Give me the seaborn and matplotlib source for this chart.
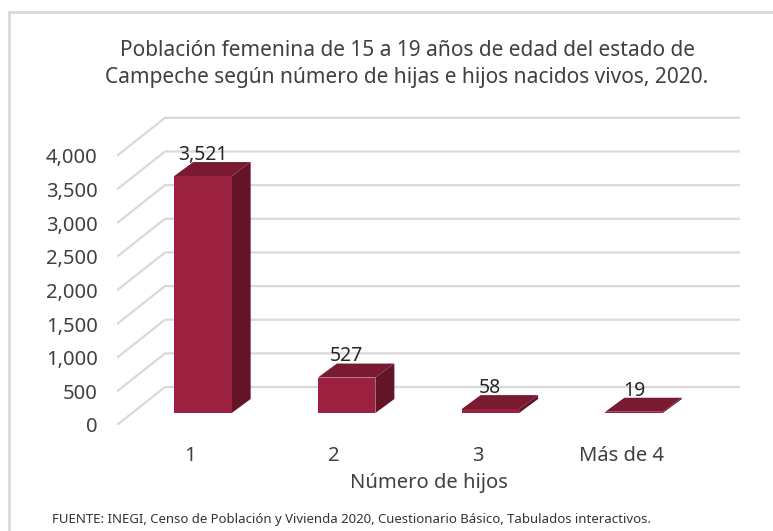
import numpy as np
import matplotlib
matplotlib.use("Agg")
import matplotlib.pyplot as plt
from matplotlib.patches import Polygon
from matplotlib.lines import Line2D
import seaborn as sns

# data
categories = ["1", "2", "3", "Más de 4"]
values = [3521, 527, 58, 19]
yticks = [0, 500, 1000, 1500, 2000, 2500, 3000, 3500, 4000]

title = ("Población femenina de 15 a 19 años de edad del estado de\n"
         "Campeche según número de hijas e hijos nacidos vivos, 2020.")
source = "FUENTE: INEGI, Censo de Población y Vivienda 2020, Cuestionario Básico, Tabulados interactivos."

sns.set_style("white")
plt.rcParams['font.family'] = ['Noto Sans', 'DejaVu Sans']

front_c = "#9C2141"
top_c = "#7A1A31"
side_c = "#631527"
grid_c = "#D9D9D9"
text_c = "#404040"

# fake 3D: depth offsets in data units
ddx, ddy = 0.132, 208      # bar depth
floor_front, floor_back = -178, 386
x_front, x_back, x_end = -0.598, -0.264, 3.737

fig = plt.figure(figsize=(7.73, 5.31), dpi=100)
ax = fig.add_axes([117 / 773, 1 - 425 / 531, 623 / 773, 325 / 531])

sns.barplot(x=categories, y=values, width=0.4, color=front_c, saturation=1,
            linewidth=0, ax=ax, zorder=3)

# gridlines: front diagonal + back wall
for v in yticks:
    ax.plot([x_front, x_back, x_end], [v + floor_front, v + floor_back, v + floor_back],
            color=grid_c, lw=1.6, zorder=1, solid_capstyle="butt")

# top + side faces from the seaborn bars
for p, val in zip(ax.patches, values):
    x0 = p.get_x()
    x1 = x0 + p.get_width()
    h = p.get_height()
    side = Polygon([(x1, 0), (x1, h), (x1 + ddx, h + ddy), (x1 + ddx, ddy)],
                   closed=True, fc=side_c, ec="none", zorder=2)
    top = Polygon([(x0, h), (x1, h), (x1 + ddx, h + ddy), (x0 + ddx, h + ddy)],
                  closed=True, fc=top_c, ec="none", zorder=4)
    ax.add_patch(side)
    ax.add_patch(top)
    ax.annotate(f"{val:,}", (x0 + p.get_width() / 2, h + ddy), xytext=(0, -2),
                textcoords="offset points", ha="center", va="bottom",
                fontsize=14, color="#262626", zorder=5)

ax.set_xlim(x_front, x_end)
ax.set_ylim(floor_front, floor_front + 325 / 0.0673)

ax.set_yticks([v + floor_front for v in yticks], [f"{v:,}" for v in yticks])
ax.set_xticks([i - 0.09 for i in range(len(categories))], categories)
ax.tick_params(axis="y", length=0, pad=14, labelsize=14.5, labelcolor=text_c)
ax.tick_params(axis="x", length=0, pad=15, labelsize=14.5, labelcolor=text_c)
ax.set_xlabel("Número de hijos", fontsize=14.5, color=text_c, labelpad=5)
ax.set_ylabel("")
sns.despine(ax=ax, left=True, bottom=True)

fig.text(407 / 773, 1 - 64 / 531, title, ha="center", va="center",
         fontsize=15, color=text_c, linespacing=1.42)
fig.text(52 / 773, 1 - 520 / 531, source, ha="left", va="center",
         fontsize=9.5, color="#333333")

# outer frame (top and left only)
fig.add_artist(Line2D([9 / 773, 1], [1 - 12 / 531] * 2, color=grid_c, lw=2,
                      transform=fig.transFigure))
fig.add_artist(Line2D([9 / 773] * 2, [0, 1 - 12 / 531], color=grid_c, lw=2,
                      transform=fig.transFigure))

fig.savefig("out.png", dpi=100)
